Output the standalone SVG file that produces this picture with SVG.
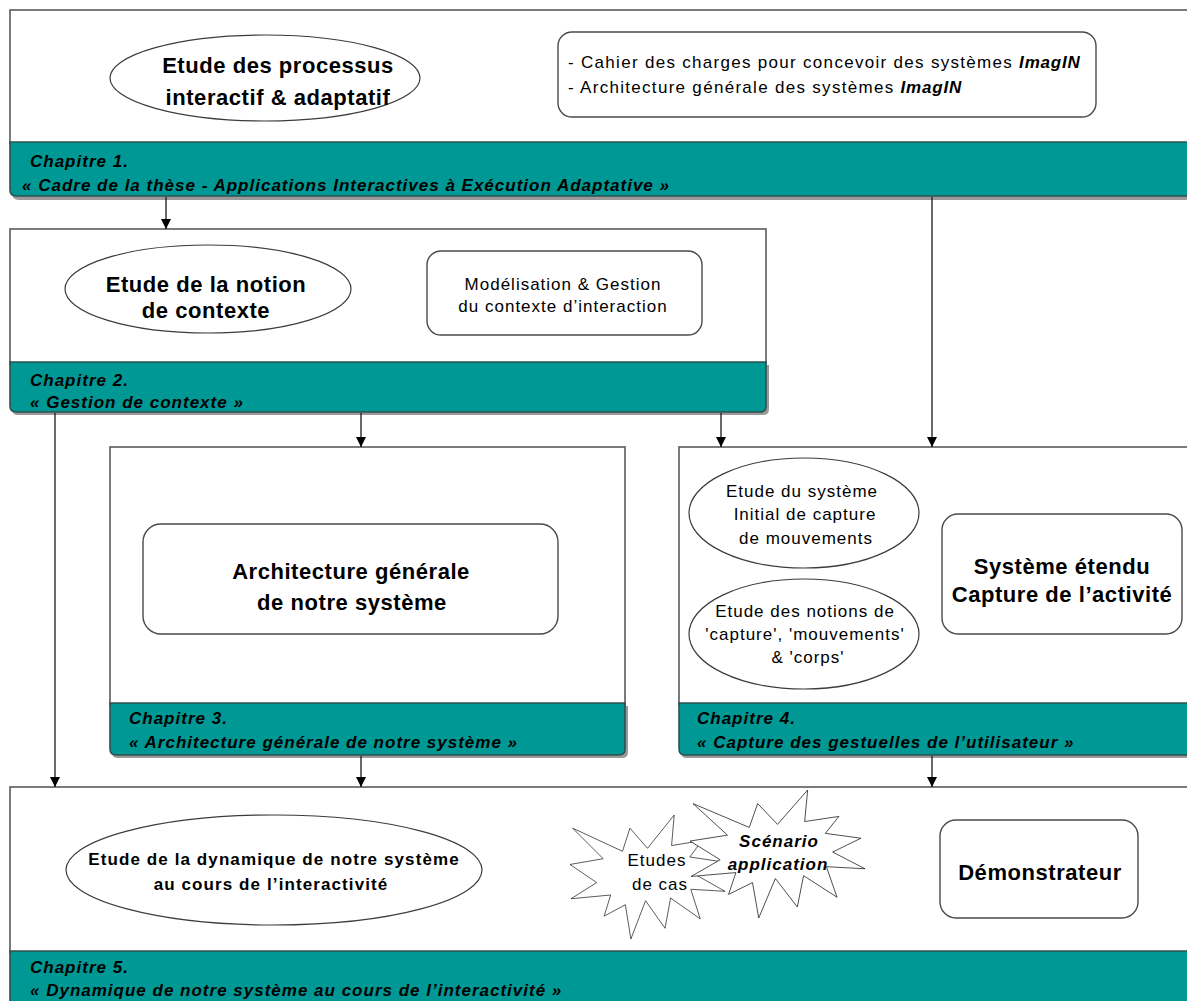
<svg xmlns="http://www.w3.org/2000/svg" width="1187" height="1001" viewBox="0 0 1187 1001">
  <defs>
    <style>
      .frame { fill: #ffffff; stroke: #5a5a5a; stroke-width: 1.6; }
      .bar { fill: #009894; stroke: #2e5250; stroke-width: 1.6; }
      .shadow { fill: #9a9a9a; }
      .oval { fill: #ffffff; stroke: #3c3c3c; stroke-width: 1.2; }
      .card { fill: #ffffff; stroke: #4a4a4a; stroke-width: 1.4; }
      .burst { fill: #ffffff; stroke: #1a1a1a; stroke-width: 1.1; }
      .link { fill: none; stroke: #1a1a1a; stroke-width: 1.3; }
      text { font-family: "Liberation Sans", Arial, sans-serif; fill: #000000; }
      .big { font-size: 22px; font-weight: bold; text-anchor: middle; letter-spacing: 0.55px; }
      .mid { font-size: 17px; font-weight: bold; text-anchor: middle; letter-spacing: 1.1px; }
      .reg { font-size: 17px; text-anchor: middle; letter-spacing: 1px; }
      .list { font-size: 17px; letter-spacing: 1.3px; }
      .cap { font-size: 17px; font-weight: bold; font-style: italic; letter-spacing: 1px; }
      .bi { font-size: 17px; font-weight: bold; font-style: italic; text-anchor: middle; letter-spacing: 1px; }
    </style>
    <marker id="arrow" viewBox="0 0 10 10" refX="10" refY="5" markerWidth="10" markerHeight="10" markerUnits="userSpaceOnUse" orient="auto">
      <path d="M0,0 L10,5 L0,10 z" fill="#000000"/>
    </marker>
    <!-- explosion outline on a 216 x 216 grid -->
    <polygon id="seal" points="108,58 145.22,0 141.55,53.25 183.8,44.57 167.02,73.15 210.97,81.37 176.07,104.75 216,132.9 168.37,129.42 181.45,180.95 140.2,144.57 132.47,197.37 105.32,149.35 84.85,216 77.15,156.27 47.62,176.17 56.67,139.37 1.35,145.87 37.22,117.75 0,86.15 46.27,76.17 3.7,22.95 73.12,63.2 83.52,22.95"/>
  </defs>

  <rect width="1187" height="1001" fill="#ffffff"/>

  <!-- Chapter 1 -->
  <g id="chapitre1">
    <rect class="frame" x="10" y="10" width="1185" height="134"/>
    <path class="shadow" d="M12,145 H1192 V193 Q1192,200 1185,200 H19 Q12,200 12,193 Z"/>
    <path class="bar" d="M10,142 H1192 V190 Q1192,196 1186,196 H16 Q10,196 10,190 Z"/>
    <ellipse class="oval" cx="265" cy="78" rx="155" ry="43"/>
    <text class="big" x="278" y="73">Etude des processus</text>
    <text class="big" x="278" y="105">interactif &amp; adaptatif</text>
    <rect class="card" x="558" y="32" width="538" height="85" rx="14"/>
    <text class="list" x="568" y="68">- Cahier des charges pour concevoir des systèmes <tspan font-weight="bold" font-style="italic" letter-spacing="0.8px">ImagIN</tspan></text>
    <text class="list" x="568" y="93">- Architecture générale des systèmes <tspan font-weight="bold" font-style="italic" letter-spacing="0.8px">ImagIN</tspan></text>
    <text class="cap" x="30" y="167">Chapitre 1.</text>
    <text class="cap" x="22" y="191">« Cadre de la thèse - Applications Interactives à Exécution Adaptative »</text>
  </g>

  <!-- Chapter 2 -->
  <g id="chapitre2">
    <rect class="frame" x="10" y="229" width="756" height="135"/>
    <path class="shadow" d="M12,365 H769 V409 Q769,415 763,415 H18 Q12,415 12,409 Z"/>
    <path class="bar" d="M10,362 H766 V406 Q766,412 760,412 H16 Q10,412 10,406 Z"/>
    <ellipse class="oval" cx="208" cy="289" rx="143" ry="44"/>
    <text class="big" x="206" y="292">Etude de la notion</text>
    <text class="big" x="206" y="318">de contexte</text>
    <rect class="card" x="427" y="251" width="275" height="84" rx="14"/>
    <text class="reg" x="563" y="290">Modélisation &amp; Gestion</text>
    <text class="reg" x="563" y="312">du contexte d’interaction</text>
    <text class="cap" x="30" y="386">Chapitre 2.</text>
    <text class="cap" x="30" y="408">« Gestion de contexte »</text>
  </g>

  <!-- Chapter 3 -->
  <g id="chapitre3">
    <rect class="frame" x="110" y="447" width="515" height="258"/>
    <path class="shadow" d="M112,706 H628 V752 Q628,758 622,758 H118 Q112,758 112,752 Z"/>
    <path class="bar" d="M110,703 H625 V749 Q625,755 619,755 H116 Q110,755 110,749 Z"/>
    <rect class="card" x="143" y="524" width="415" height="110" rx="18"/>
    <text class="big" x="351" y="579">Architecture générale</text>
    <text class="big" x="352" y="610">de notre système</text>
    <text class="cap" x="129" y="724">Chapitre 3.</text>
    <text class="cap" x="129" y="748">« Architecture générale de notre système »</text>
  </g>

  <!-- Chapter 4 -->
  <g id="chapitre4">
    <rect class="frame" x="679" y="447" width="516" height="258"/>
    <path class="shadow" d="M681,706 H1192 V752 Q1192,758 1186,758 H687 Q681,758 681,752 Z"/>
    <path class="bar" d="M679,703 H1192 V749 Q1192,755 1186,755 H685 Q679,755 679,749 Z"/>
    <ellipse class="oval" cx="804" cy="513" rx="115" ry="55"/>
    <text class="reg" x="802" y="497">Etude du système</text>
    <text class="reg" x="805" y="520">Initial de capture</text>
    <text class="reg" x="806" y="544">de mouvements</text>
    <ellipse class="oval" cx="804" cy="634" rx="115" ry="55"/>
    <text class="reg" x="805" y="617">Etude des notions de</text>
    <text class="reg" x="805" y="640">'capture', 'mouvements'</text>
    <text class="reg" x="808" y="663">&amp; 'corps'</text>
    <rect class="card" x="942" y="514" width="240" height="120" rx="16"/>
    <text class="big" x="1062" y="574">Système étendu</text>
    <text class="big" x="1062" y="602">Capture de l’activité</text>
    <text class="cap" x="697" y="724">Chapitre 4.</text>
    <text class="cap" x="697" y="748">« Capture des gestuelles de l’utilisateur »</text>
  </g>

  <!-- Chapter 5 -->
  <g id="chapitre5">
    <rect class="frame" x="10" y="787" width="1185" height="166"/>
    <path class="bar" d="M10,951 H1192 V1010 H10 Z"/>
    <ellipse class="oval" cx="274" cy="870" rx="208" ry="55"/>
    <text class="mid" x="274" y="865">Etude de la dynamique de notre système</text>
    <text class="mid" x="271" y="890">au cours de l’interactivité</text>
    <use href="#seal" class="burst" transform="translate(570,815) scale(0.7176,0.5741)" vector-effect="non-scaling-stroke"/>
    <text class="reg" x="657" y="866">Etudes</text>
    <text class="reg" x="660" y="890">de cas</text>
    <use href="#seal" class="burst" transform="translate(690,790) scale(0.8102,0.5926)" vector-effect="non-scaling-stroke"/>
    <text class="bi" x="779" y="847">Scénario</text>
    <text class="bi" x="778" y="870">application</text>
    <rect class="card" x="940" y="820" width="198" height="98" rx="16"/>
    <text class="big" x="1040" y="880">Démonstrateur</text>
    <text class="cap" x="30" y="973">Chapitre 5.</text>
    <text class="cap" x="30" y="996">« Dynamique de notre système au cours de l’interactivité »</text>
  </g>

  <!-- connectors -->
  <g id="connectors">
    <line class="link" x1="166" y1="197" x2="166" y2="229" marker-end="url(#arrow)"/>
    <line class="link" x1="932" y1="197" x2="932" y2="447" marker-end="url(#arrow)"/>
    <line class="link" x1="361" y1="413" x2="361" y2="447" marker-end="url(#arrow)"/>
    <line class="link" x1="721" y1="413" x2="721" y2="447" marker-end="url(#arrow)"/>
    <line class="link" x1="55" y1="413" x2="55" y2="787" marker-end="url(#arrow)"/>
    <line class="link" x1="361" y1="756" x2="361" y2="787" marker-end="url(#arrow)"/>
    <line class="link" x1="932" y1="756" x2="932" y2="787" marker-end="url(#arrow)"/>
  </g>
</svg>
